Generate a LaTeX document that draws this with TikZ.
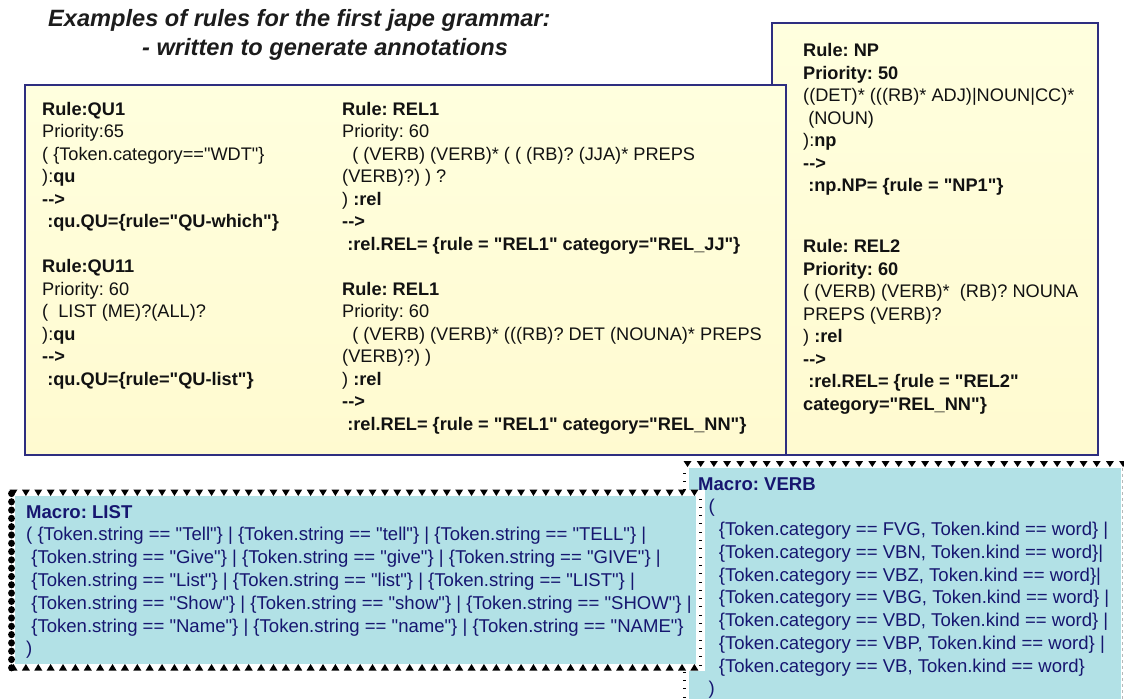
\documentclass[tikz,border=0pt]{standalone}
\usepackage{fontspec}
\setmainfont{Liberation Sans}[Ligatures=TeXOff]
\definecolor{boxline}{RGB}{46,46,128}
\definecolor{ink}{RGB}{18,18,18}
\definecolor{titleink}{RGB}{28,28,28}
\definecolor{macroink}{RGB}{22,22,112}
\definecolor{macrofill}{RGB}{178,225,230}
\definecolor{noteA}{RGB}{255,255,222}
\definecolor{noteB}{RGB}{255,255,240}
\definecolor{noteC}{RGB}{255,250,208}
\begin{document}
\begin{tikzpicture}[x=1pt,y=-1pt,
  rulebox/.style={draw=boxline, line width=1.4pt, top color=noteA, middle color=noteB, bottom color=noteC},
  ruletext/.style={anchor=north west, inner sep=0pt, align=left, text=ink,
    font=\fontsize{18.2}{22.5}\selectfont\frenchspacing},
  macrotext/.style={anchor=north west, inner sep=0pt, align=left, text=macroink,
    font=\fontsize{18.55}{22.8}\selectfont\frenchspacing},
  titletext/.style={anchor=base west, inner sep=0pt, text=titleink,
    font=\fontsize{23.6}{28}\selectfont\bfseries\itshape\frenchspacing},
  tick/.style={black, line width=0.9pt}
]
\useasboundingbox (0,0) rectangle (1124,699);

% title
\node[titletext] (title1) at (48,26.5) {Examples of rules for the first jape grammar:};
\node[titletext] (title2) at (142,55) {- written to generate annotations};

% rule boxes (the wide box overlaps the narrow one)
\path[rulebox] (772,23) rectangle (1098,455);
\path[rulebox] (25,85) rectangle (786,455);

\node[ruletext] (qu) at (42,99.25) {\strut\textbf{Rule:QU1}\\
Priority:65\\
( \{Token.category=="WDT"\}\\
):\textbf{qu}\\
\textbf{-->}\\
\textbf{\ :qu.QU=\{rule="QU-which"\}}\\[22.5pt]
\textbf{Rule:QU11}\\
Priority: 60\\
(\ \ LIST (ME)?(ALL)?\\
):\textbf{qu}\\
\textbf{-->}\\
\textbf{\ :qu.QU=\{rule="QU-list"\}}};

\node[ruletext] (rel1) at (342,99.25) {\strut\textbf{Rule: REL1}\\
Priority: 60\\
\ \ ( (VERB) (VERB)* ( ( (RB)? (JJA)* PREPS\\
(VERB)?) ) ?\\
) \textbf{:rel}\\
\textbf{-->}\\
\textbf{\ :rel.REL= \{rule = "REL1" category="REL\_JJ"\}}\\[22.5pt]
\textbf{Rule: REL1}\\
Priority: 60\\
\ \ ( (VERB) (VERB)* (((RB)? DET (NOUNA)* PREPS\\
(VERB)?) )\\
) \textbf{:rel}\\
\textbf{-->}\\
\textbf{\ :rel.REL= \{rule = "REL1" category="REL\_NN"\}}};

\node[ruletext] (np) at (803,40.75) {\strut\textbf{Rule: NP}\\
\textbf{Priority: 50}\\
((DET)* (((RB)* ADJ)|NOUN|CC)*\\
\ (NOUN)\\
):\textbf{np}\\
\textbf{-->}\\
\textbf{\ :np.NP= \{rule = "NP1"\}}};

\node[ruletext] (rel2) at (803,236.75) {\strut\textbf{Rule: REL2}\\
\textbf{Priority: 60}\\
( (VERB) (VERB)*\ \ (RB)? NOUNA\\
PREPS (VERB)?\\
) \textbf{:rel}\\
\textbf{-->}\\
\textbf{\ :rel.REL= \{rule = "REL2"}\\
\textbf{category="REL\_NN"\}}};

% macro VERB box
\fill[white] (683,461) rectangle (1124,699);
\fill[macrofill] (689,468) rectangle (1121,699);
\foreach \i in {0,...,33}
  \fill[black] ({683.5+\i*13.2},461) -- ({691.5+\i*13.2},461) -- ({687.5+\i*13.2},467) -- cycle;
\foreach \i in {0,...,27}
  \draw[tick] (683,{473+\i*8.3}) -- ++(3.4,0);
\draw[gray!55, dashed, line width=0.7pt] (1122,468) -- (1122,699);

% macro LIST box
\fill[white] (8,489.5) rectangle (705,670.5);
\fill[macrofill] (15,496) rectangle (696,664);
\foreach \i in {0,...,55} {
  \fill[black] ({9.5+\i*12.38},489.5) -- ({17.5+\i*12.38},489.5) -- ({13.5+\i*12.38},496) -- cycle;
  \fill[black] ({9.5+\i*12.38},670.5) -- ({17.5+\i*12.38},670.5) -- ({13.5+\i*12.38},664) -- cycle;
}
\foreach \i in {0,...,21}
  \fill[black] (11.5,{493.5+\i*8.3}) ellipse [x radius=3.4, y radius=3.6];
\foreach \i in {0,...,20}
  \draw[tick] (699,{499+\i*8.3}) -- ++(3.4,0);

\node[macrotext] (list) at (26,502) {\strut\textbf{Macro: LIST}\\
( \{Token.string == "Tell"\} | \{Token.string == "tell"\} | \{Token.string == "TELL"\} |\\
\ \{Token.string == "Give"\} | \{Token.string == "give"\} | \{Token.string == "GIVE"\} |\\
\ \{Token.string == "List"\} | \{Token.string == "list"\} | \{Token.string == "LIST"\} |\\
\ \{Token.string == "Show"\} | \{Token.string == "show"\} | \{Token.string == "SHOW"\} |\\
\ \{Token.string == "Name"\} | \{Token.string == "name"\} | \{Token.string == "NAME"\}\\
)};

\node[macrotext, font=\fontsize{18.55}{22.75}\selectfont\frenchspacing] (verb) at (698,474) {\strut\textbf{Macro: VERB}\\
\ \ (\\
\ \ \ \ \{Token.category == FVG, Token.kind == word\} |\\
\ \ \ \ \{Token.category == VBN, Token.kind == word\}|\\
\ \ \ \ \{Token.category == VBZ, Token.kind == word\}|\\
\ \ \ \ \{Token.category == VBG, Token.kind == word\} |\\
\ \ \ \ \{Token.category == VBD, Token.kind == word\} |\\
\ \ \ \ \{Token.category == VBP, Token.kind == word\} |\\
\ \ \ \ \{Token.category == VB, Token.kind == word\}\\
\ \ )};
\end{tikzpicture}
\end{document}
